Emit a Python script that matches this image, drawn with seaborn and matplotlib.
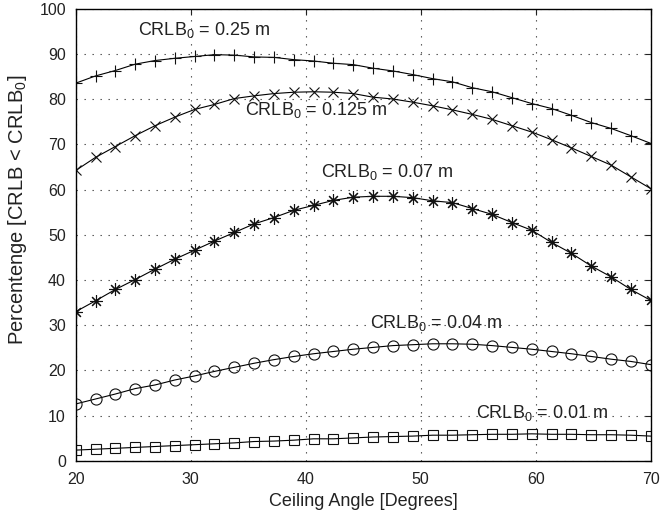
import numpy as np
import pandas as pd
import matplotlib
matplotlib.use("Agg")
import matplotlib.pyplot as plt
import seaborn as sns

angles = np.linspace(20, 70, 30)

crlb_025 = [83.5, 85.1, 86.3, 87.7, 88.5, 89.0, 89.4, 89.8, 89.7, 89.3,
            89.2, 88.7, 88.4, 87.9, 87.6, 86.8, 86.2, 85.4, 84.5, 83.8,
            82.5, 81.6, 80.3, 79.0, 77.9, 76.4, 74.8, 73.5, 71.9, 70.2]
crlb_0125 = [64.2, 67.1, 69.5, 71.9, 74.1, 76.0, 77.7, 78.8, 80.1, 80.7,
             81.2, 81.5, 81.6, 81.5, 81.2, 80.4, 80.0, 79.3, 78.5, 77.6,
             76.6, 75.5, 74.1, 72.7, 71.0, 69.2, 67.3, 65.4, 62.8, 60.2]
crlb_007 = [33.0, 35.4, 37.9, 40.1, 42.4, 44.6, 46.6, 48.6, 50.5, 52.4,
            53.8, 55.4, 56.5, 57.6, 58.3, 58.5, 58.5, 58.2, 57.5, 57.1,
            55.8, 54.5, 52.7, 51.0, 48.3, 45.9, 43.1, 40.7, 37.9, 35.5]
crlb_004 = [12.6, 13.7, 14.8, 16.0, 16.8, 17.9, 18.8, 19.8, 20.7, 21.6,
            22.4, 23.1, 23.7, 24.2, 24.7, 25.1, 25.5, 25.7, 25.9, 25.9,
            25.8, 25.5, 25.1, 24.7, 24.2, 23.7, 23.1, 22.5, 22.0, 21.3]
crlb_001 = [2.4, 2.6, 2.8, 3.0, 3.2, 3.4, 3.6, 3.8, 4.0, 4.3,
            4.4, 4.6, 4.9, 4.9, 5.1, 5.3, 5.4, 5.5, 5.7, 5.7,
            5.8, 5.9, 5.9, 6.0, 5.9, 5.9, 5.8, 5.8, 5.7, 5.5]

labels = ["CRLB$_0$ = 0.25 m", "CRLB$_0$ = 0.125 m", "CRLB$_0$ = 0.07 m",
          "CRLB$_0$ = 0.04 m", "CRLB$_0$ = 0.01 m"]
label_pos = [(25.4, 95.3), (34.7, 77.6), (41.3, 63.9), (45.6, 30.5), (54.8, 10.6)]

sns.set_theme(style="white")
plt.rcParams["font.family"] = ["Liberation Sans", "DejaVu Sans"]
plt.rcParams["mathtext.fontset"] = "custom"
plt.rcParams["mathtext.rm"] = "Liberation Sans"
plt.rcParams["mathtext.it"] = "Liberation Sans"
plt.rcParams["mathtext.default"] = "regular"

fig = plt.figure(figsize=(6.6, 5.13), dpi=100)
ax = fig.add_axes([0.1147, 0.1014, 0.9859 - 0.1147, 0.9834 - 0.1014])

series = [crlb_025, crlb_0125, crlb_007, crlb_004, crlb_001]
markers = ["+", "x", (8, 2, 0), "o", "s"]
msizes = [9, 7, 9, 8, 7]
for vals, m, ms in zip(series, markers, msizes):
    df = pd.DataFrame({"angle": angles, "pct": vals})
    sns.lineplot(data=df, x="angle", y="pct", ax=ax, color="black",
                 linewidth=0.8, marker=m, markersize=ms,
                 markerfacecolor="none", markeredgecolor="#111111",
                 markeredgewidth=0.8)

for lab, (x, y) in zip(labels, label_pos):
    ax.text(x, y, lab, ha="left", va="center", fontsize=13, color="#222222")

ax.set_xlim(20, 70)
ax.set_ylim(0, 100)
ax.set_xticks([20, 30, 40, 50, 60, 70])
ax.set_yticks(np.arange(0, 101, 10))
ax.grid(True, linestyle=(0, (1.2, 6)), color="#444444", linewidth=0.8)
ax.tick_params(direction="in", length=4, width=0.8, top=True, right=True,
               labelsize=11.5, colors="#222222")
ax.tick_params(axis="y", pad=7)
ax.tick_params(axis="x", pad=8)
for s in ax.spines.values():
    s.set_visible(True)
    s.set_color("black")
    s.set_linewidth(1.0)
ax.set_xlabel("Ceiling Angle [Degrees]", fontsize=13, color="#222222", labelpad=4)
ax.set_ylabel("Percentenge [CRLB < CRLB$_0$]", fontsize=14.5, color="#222222")
ax.yaxis.set_label_coords(-0.082, 0.555)

fig.savefig("out.png", dpi=100)
